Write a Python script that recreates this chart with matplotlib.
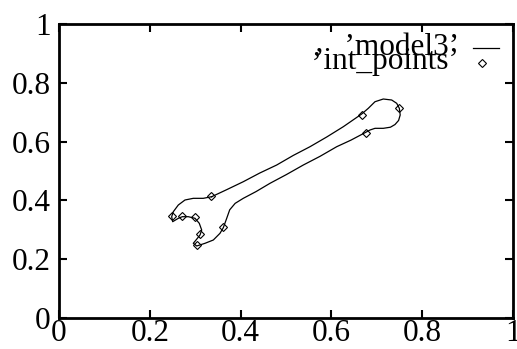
import numpy as np
import matplotlib
matplotlib.use("Agg")
from matplotlib import pyplot as plt

plt.rcParams['font.family'] = ['Liberation Serif', 'DejaVu Serif']

# outline of the wrench model, traced around once (closed)
model_x = [0.3363, 0.3700, 0.4059, 0.4420, 0.4795, 0.5160, 0.5529, 0.5900,
           0.6262, 0.6667, 0.6813, 0.6960, 0.7143, 0.7328, 0.7438, 0.7496,
           0.7515, 0.7480, 0.7400, 0.7300, 0.7143, 0.6960, 0.6850, 0.6740,
           0.6430, 0.6117, 0.5750, 0.5381, 0.5010, 0.4648, 0.4340, 0.4059,
           0.3880, 0.3760, 0.3694, 0.3619, 0.3546, 0.3399, 0.3216, 0.3033,
           0.2958, 0.3018, 0.3106, 0.3143, 0.3090, 0.2996, 0.2848, 0.2716,
           0.2628, 0.2504, 0.2482, 0.2518, 0.2628, 0.2775, 0.2958, 0.3178,
           0.3363]
model_y = [0.4126, 0.4370, 0.4636, 0.4930, 0.5204, 0.5530, 0.5827, 0.6160,
           0.6507, 0.6939, 0.7133, 0.7357, 0.7449, 0.7415, 0.7303, 0.7133,
           0.6905, 0.6720, 0.6580, 0.6490, 0.6452, 0.6452, 0.6395, 0.6303,
           0.6050, 0.5827, 0.5500, 0.5204, 0.4880, 0.4582, 0.4300, 0.4071,
           0.3900, 0.3680, 0.3391, 0.3071, 0.2881, 0.2653, 0.2541, 0.2449,
           0.2541, 0.2653, 0.2823, 0.2993, 0.3221, 0.3391, 0.3446, 0.3446,
           0.3391, 0.3276, 0.3446, 0.3616, 0.3844, 0.4014, 0.4071, 0.4071,
           0.4126]

# interpolation points
pts_x = [0.2493, 0.2716, 0.2996, 0.3112, 0.3040, 0.3623, 0.3359, 0.6674, 0.7485, 0.6758]
pts_y = [0.3486, 0.3469, 0.3425, 0.2864, 0.2483, 0.3095, 0.4133, 0.6922, 0.7133, 0.6293]

ticks = [0, 0.2, 0.4, 0.6, 0.8, 1]
tick_labels = ['0', '0.2', '0.4', '0.6', '0.8', '1']

fig = plt.figure(figsize=(5.17, 3.49), dpi=100)
ax = fig.add_axes([0.1141, 0.0888, 0.9923 - 0.1141, 0.9312 - 0.0888])

ax.plot(model_x, model_y, '-', color='black', lw=0.9)
ax.plot(pts_x, pts_y, 'D', color='black', mfc='none', ms=4.5, mew=0.8)

ax.set_xlim(0, 1)
ax.set_ylim(0, 1)
ax.set_xticks(ticks)
ax.set_xticklabels(tick_labels)
ax.set_yticks(ticks)
ax.set_yticklabels(tick_labels)
ax.tick_params(direction='in', length=6, width=1.5, top=True, right=True,
               labelsize=22.5)
ax.tick_params(axis='y', pad=6)
ax.tick_params(axis='x', pad=1)
for s in ax.spines.values():
    s.set_linewidth(2)

# key in the top-right corner
ax.text(0.882, 0.895, ",   \u2019model3\u2019", transform=ax.transAxes,
        ha='right', va='baseline', fontsize=22.5)
ax.plot([0.912, 0.970], [0.920, 0.920], '-', color='black', lw=0.9,
        transform=ax.transAxes, clip_on=False)
ax.text(0.882, 0.848, "\u2019int_points\u2019", transform=ax.transAxes,
        ha='right', va='baseline', fontsize=22.5)
ax.plot([0.932], [0.867], 'D', color='black', mfc='none', ms=4.5, mew=0.8,
        transform=ax.transAxes, clip_on=False)

fig.savefig('out.png', dpi=100)
